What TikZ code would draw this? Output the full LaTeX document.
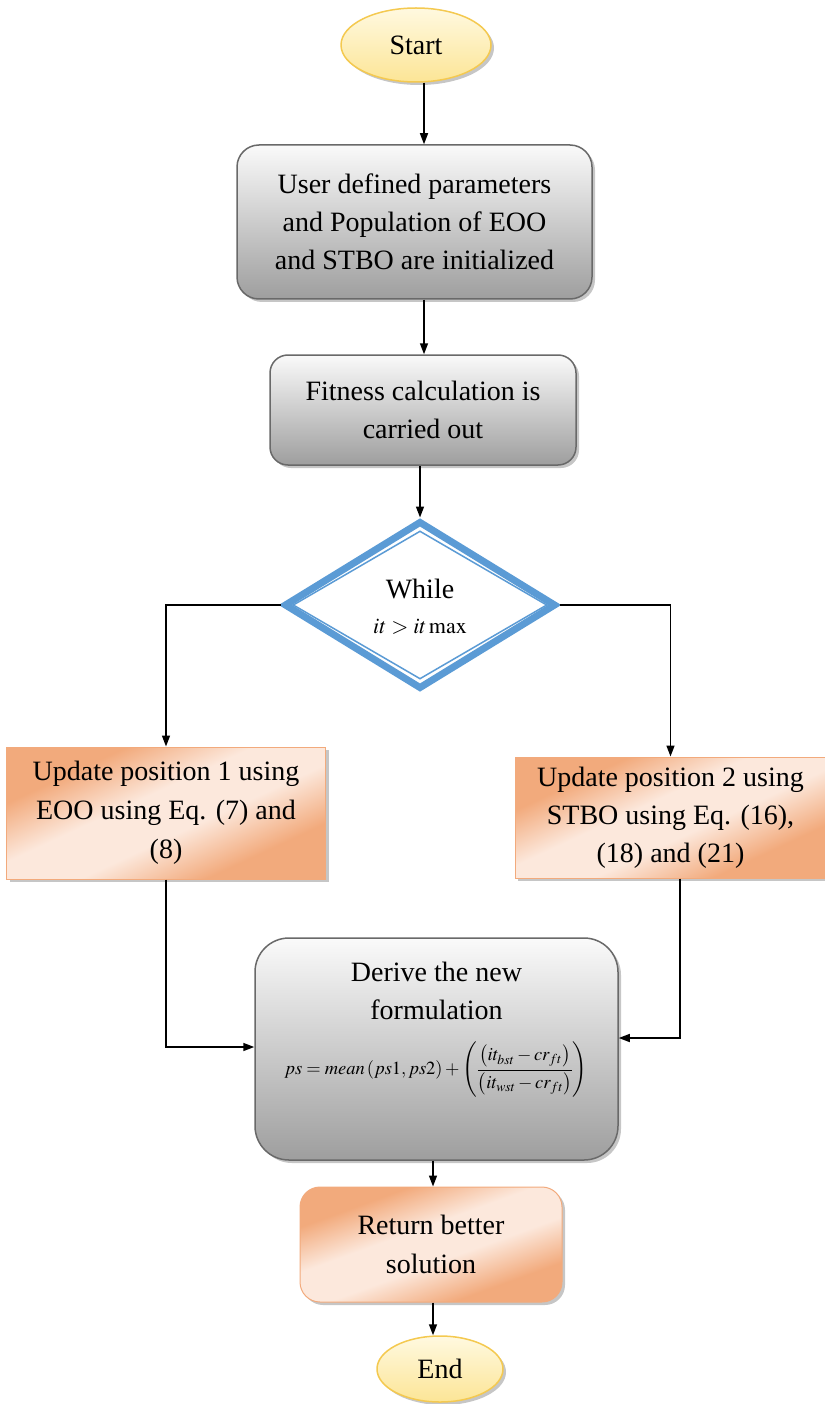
\documentclass[tikz,border=0pt]{standalone}
\usepackage{amsmath}
\usepackage{mathptmx}
\usepackage{fontspec}
\setmainfont{Liberation Serif}
\usetikzlibrary{shapes.geometric, shadows, arrows.meta}
\definecolor{ylwB}{RGB}{244,201,80}
\definecolor{ylwT}{RGB}{255,249,224}
\definecolor{ylwBot}{RGB}{252,229,150}
\definecolor{grT}{RGB}{250,250,250}
\definecolor{grB}{RGB}{158,158,158}
\definecolor{grD}{RGB}{105,105,105}
\definecolor{orD}{RGB}{242,170,124}
\definecolor{orL}{RGB}{252,232,220}
\definecolor{bl}{RGB}{91,155,213}
\pgfdeclarehorizontalshading{orshade}{100bp}{color(0bp)=(orD); color(30bp)=(orD); color(44bp)=(orL); color(56bp)=(orL); color(70bp)=(orD); color(100bp)=(orD)}
\tikzset{
  shad/.style={drop shadow={shadow xshift=3pt, shadow yshift=-3pt, opacity=0.45, fill=gray}},
  term/.style={ellipse, draw=ylwB, line width=1.5pt, top color=ylwT, bottom color=ylwBot, shad, inner sep=0pt, font=\fontsize{28}{34}\selectfont},
  graybox/.style={rounded corners=22pt, draw=grD, line width=1.5pt, top color=grT, bottom color=grB, shad, align=center, inner sep=0pt, font=\fontsize{28}{38}\selectfont},
  orbox/.style={draw=orD, line width=1pt, shading=orshade, shading angle=115, shad, align=center, inner sep=0pt, font=\fontsize{28}{39}\selectfont},
  txt/.style={align=center, inner sep=0pt, font=\fontsize{28}{38}\selectfont},
  arr/.style={line width=1.5pt, -{Triangle[length=11pt,width=8pt]}}
}
\begin{document}
\begin{tikzpicture}[x=1pt, y=-1pt]
\useasboundingbox (0,0) rectangle (824,1404);
% nodes
\node[term, minimum width=150pt, minimum height=74pt] (start) at (416,45) {Start};
\node[graybox, minimum width=355pt, minimum height=154pt] (box1) at (414.5,222)
  {User defined parameters\\and Population of EOO\\and STBO are initialized};
\node[graybox, minimum width=306pt, minimum height=110pt, rounded corners=18pt] (box2) at (423,410)
  {Fitness calculation is\\carried out};
\node[diamond, draw=bl, line width=7pt, minimum width=272pt, minimum height=168pt, inner sep=0pt, fill=white] (dia) at (420,605) {};
\node[diamond, draw=bl, line width=1.5pt, minimum width=254pt, minimum height=148pt, inner sep=0pt] (diain) at (420,605) {};
\node[txt] (whl) at (420,589) {While};
\node[inner sep=0pt, font=\fontsize{22}{26}\selectfont] (cond) at (420,627) {$it > it\,\mathrm{max}$};
\node[orbox, minimum width=319pt, minimum height=132pt] (lbox) at (166,813)
  {Update position 1 using\\EOO using Eq. (7) and\\(8)};
\node[orbox, minimum width=311pt, minimum height=121pt, font=\fontsize{28}{38}\selectfont] (rbox) at (670.5,817.5)
  {Update position 2 using\\STBO using Eq. (16),\\(18) and (21)};
\node[graybox, minimum width=363pt, minimum height=222pt, rounded corners=34pt] (derive) at (436.5,1049) {};
\node[txt] (dtext) at (436.5,991) {Derive the new\\formulation};
\node[inner sep=0pt, font=\fontsize{18.5}{22}\selectfont] (formula) at (436,1070)
  {$ps = mean\left(ps1, ps2\right) + \left(\dfrac{\left(it_{bst} - cr_{ft}\right)}{\left(it_{wst} - cr_{ft}\right)}\right)$};
\node[orbox, minimum width=262pt, minimum height=115pt, rounded corners=20pt, shading angle=110] (ret) at (431,1244.5)
  {Return better\\solution};
\node[term, minimum width=126pt, minimum height=66pt] (end) at (440,1369) {End};
% connectors
\draw[arr] ([xshift=8pt]start.south) -- ([xshift=8pt]start.south |- box1.north);
\draw[arr] ([xshift=9.5pt]box1.south) -- ([xshift=9.5pt]box1.south |- box2.north);
\draw[arr] ([xshift=-3pt]box2.south) -- (dia.north);
\draw[arr] (dia.west) -| (lbox.north);
\draw[arr] (dia.east) -| (rbox.north);
\draw[arr] (lbox.south) |- ([yshift=2pt]derive.west);
\draw[arr] ([xshift=9.5pt]rbox.south) |- ([yshift=11pt]derive.east);
\draw[arr] ([xshift=-3.5pt]derive.south) -- ([xshift=-3.5pt]derive.south |- ret.north);
\draw[arr] ([xshift=2pt]ret.south) -- ([xshift=2pt]ret.south |- end.north);
\end{tikzpicture}
\end{document}
